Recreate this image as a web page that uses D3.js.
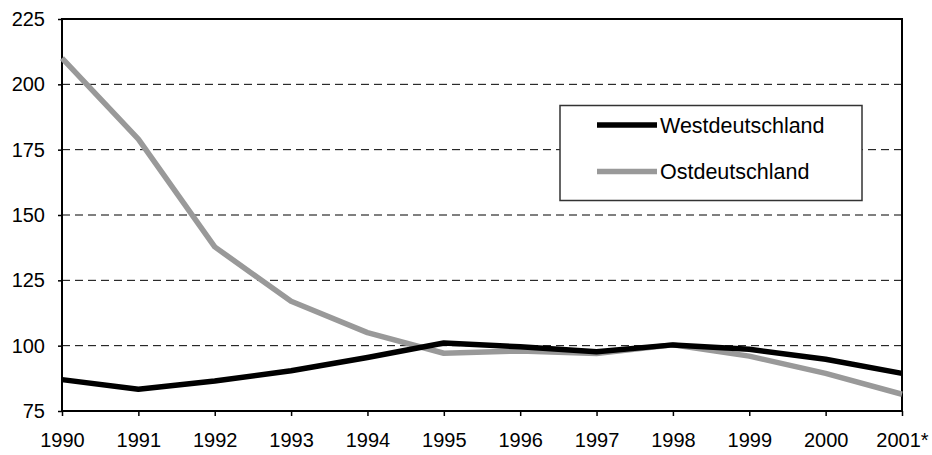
<!DOCTYPE html>
<meta charset="utf-8">
<head>
    <title>West- und Ostdeutschland 1990-2001</title>
    <script type="text/javascript" src="https://d3js.org/d3.v7.min.js"></script>
    <style>
        body { margin: 0; background: white; }
        text { font-family: Arial, "Liberation Sans", sans-serif; fill: black; }
    </style>
</head>
<body>
    <script>
        // data
        const years = ["1990","1991","1992","1993","1994","1995","1996","1997","1998","1999","2000","2001*"]
        const west = [87, 83.3, 86.5, 90.4, 95.5, 101, 99.6, 97.7, 100.3, 98.6, 94.8, 89.4]
        const ost = [210, 179, 137.8, 117, 105, 97.1, 98, 97, 100.3, 96, 89.4, 81.4]
        const yTicks = [75, 100, 125, 150, 175, 200, 225]
        const seriesNames = ["Westdeutschland", "Ostdeutschland"]
        const seriesColors = ["#000000", "#999999"]

        const w = 932
        const h = 455
        const margin = {top: 19, right: 30, bottom: 44, left: 62}

        let svg = d3.select("body").append("svg")
            .attr("width", w)
            .attr("height", h)

        const x = d3.scalePoint().domain(years).range([margin.left, w - margin.right])
        const y = d3.scaleLinear().domain([75, 225]).range([h - margin.bottom, margin.top])

        // dashed gridlines
        svg.append("g")
            .selectAll("line")
            .data(yTicks.filter(d => d > 75 && d < 225))
            .enter()
            .append("line")
            .attr("x1", margin.left)
            .attr("x2", w - margin.right)
            .attr("y1", d => y(d))
            .attr("y2", d => y(d))
            .attr("stroke", "black")
            .attr("stroke-width", 1)
            .attr("stroke-dasharray", "8,5")

        // y axis
        let yAxis = svg.append("g")
            .attr("transform", "translate(" + margin.left + ",0)")
            .call(d3.axisLeft(y).tickValues(yTicks).tickSize(4).tickPadding(13))
        yAxis.select(".domain").remove()
        yAxis.selectAll("line").attr("stroke", "black").attr("stroke-width", 1.5)
        yAxis.selectAll("text").attr("font-size", 20).attr("font-family", "Arial, 'Liberation Sans', sans-serif")

        // x axis
        let xAxis = svg.append("g")
            .attr("transform", "translate(0," + (h - margin.bottom) + ")")
            .call(d3.axisBottom(x).tickSize(5).tickPadding(17))
        xAxis.select(".domain").remove()
        xAxis.selectAll("line").attr("stroke", "black").attr("stroke-width", 1.5)
        xAxis.selectAll("text").attr("font-size", 20).attr("font-family", "Arial, 'Liberation Sans', sans-serif")

        // plot frame
        svg.append("rect")
            .attr("x", margin.left)
            .attr("y", margin.top)
            .attr("width", w - margin.right - margin.left)
            .attr("height", h - margin.bottom - margin.top)
            .attr("fill", "none")
            .attr("stroke", "black")
            .attr("stroke-width", 2)

        const line = d3.line()
            .x((d, i) => x(years[i]))
            .y(d => y(d))

        const allSeries = [west, ost]
        // draw Ost first, West on top
        svg.append("g")
            .selectAll("path")
            .data([1, 0])
            .enter()
            .append("path")
            .attr("d", i => line(allSeries[i]))
            .attr("fill", "none")
            .attr("stroke", i => seriesColors[i])
            .attr("stroke-width", 5.5)
            .attr("stroke-linejoin", "round")

        // legend
        let legend = svg.append("g").attr("id", "legend")
        legend.append("rect")
            .attr("x", 560)
            .attr("y", 105.5)
            .attr("width", 302)
            .attr("height", 95)
            .attr("fill", "white")
            .attr("stroke", "#333")
            .attr("stroke-width", 1.5)

        seriesNames.forEach(function (name, i) {
            const ly = 125 + i * 46.5
            legend.append("line")
                .attr("x1", 597)
                .attr("x2", 657)
                .attr("y1", ly)
                .attr("y2", ly)
                .attr("stroke", seriesColors[i])
                .attr("stroke-width", 5.5)
            legend.append("text")
                .attr("x", 660)
                .attr("y", ly)
                .attr("dy", "0.35em")
                .attr("font-size", 21.5)
                .text(name)
        })
    </script>
</body>
</html>
